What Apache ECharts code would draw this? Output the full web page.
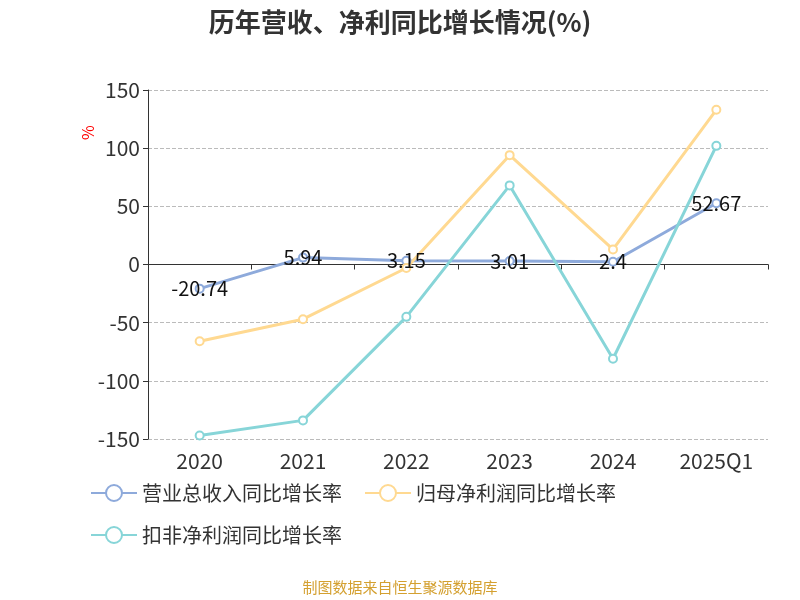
<!DOCTYPE html>
<html><head><meta charset="utf-8">
<script src="https://cdn.jsdelivr.net/npm/echarts@6/dist/echarts.min.js"></script>
<style>body{margin:0}#c{width:800px;height:600px}</style></head>
<body><div id="c"></div>
<script>
const years = ["2020", "2021", "2022", "2023", "2024", "2025Q1"];
const revenue = [-20.74, 5.94, 3.15, 3.01, 2.4, 52.67];
const netProfit = [-66, -47, -3, 94, 13, 133];
const deductedProfit = [-147, -134, -45, 68, -81, 102];
const font = "Noto Sans CJK SC";

var chart = echarts.init(document.getElementById("c"));
function line(name, data, color, label) {
  return {
    name: name, type: "line", data: data, symbol: "circle", symbolSize: 8,
    lineStyle: { width: 3, color: color },
    itemStyle: { color: "#fff", borderColor: color, borderWidth: 2 },
    label: { show: label, position: "inside", color: "#111", fontSize: 20, fontFamily: font },
  };
}
chart.setOption({
  textStyle: { fontFamily: font },
  title: { text: "历年营收、净利同比增长情况(%)", left: "center", top: 4, textStyle: { fontSize: 26, fontWeight: "bold", color: "#333" } },
  grid: { left: 148, right: 32, top: 90, bottom: 161, outerBoundsMode: "none", containLabel: false },
  legend: {
    left: 85, top: 478, width: 680, itemWidth: 46, itemHeight: 20, itemGap: 22,
    textStyle: { fontSize: 20, color: "#333" },
    data: ["营业总收入同比增长率", "归母净利润同比增长率", "扣非净利润同比增长率"],
  },
  graphic: [
    { type: "text", left: "center", top: 580, style: { text: "制图数据来自恒生聚源数据库", fill: "#d4a030", fontSize: 15, fontFamily: font } },
    { type: "text", x: 80, y: 140, rotation: Math.PI / 2, style: { text: "%", fill: "red", fontSize: 16, fontFamily: font } },
  ],
  xAxis: [{
    type: "category", data: years,
    axisLine: { onZero: true, lineStyle: { color: "#333" } },
    axisTick: { show: true, lineStyle: { color: "#333" } },
    axisLabel: { show: false },
  }, {
    type: "category", data: years, position: "bottom",
    axisLine: { show: false }, axisTick: { show: false },
    axisLabel: { fontSize: 21, color: "#333", margin: 12 },
  }],
  yAxis: {
    type: "value", min: -150, max: 150, interval: 50,
    axisLine: { show: true, lineStyle: { color: "#333" } },
    axisTick: { show: true },
    axisLabel: { fontSize: 21, color: "#333" },
    splitLine: { lineStyle: { type: "dashed", color: "#bbb" } },
  },
  series: [
    line("营业总收入同比增长率", revenue, "#8eaadb", true),
    line("归母净利润同比增长率", netProfit, "#ffd991", false),
    line("扣非净利润同比增长率", deductedProfit, "#87d5d8", false),
  ],
});
</script></body></html>
